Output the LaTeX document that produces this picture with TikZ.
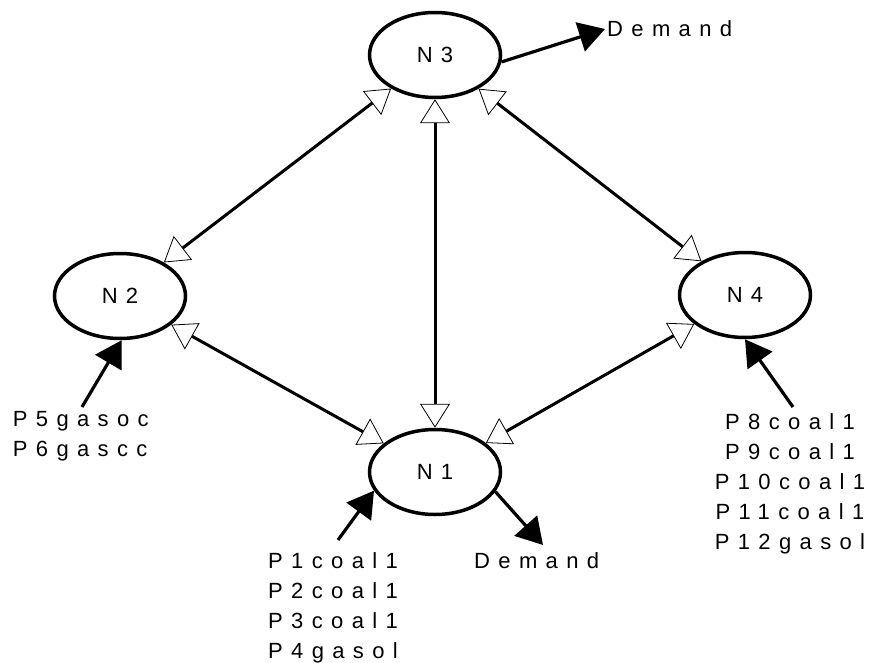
\documentclass[tikz,border=0pt]{standalone}
\usepackage{fontspec}
\setmainfont{Liberation Sans}
\newfontfamily\spacedfont[LetterSpace=38]{Liberation Sans}
\usetikzlibrary{arrows.meta,shapes.geometric}
\newcommand\lblfont{\spacedfont\fontsize{22}{30}\selectfont}
\tikzset{
  otip/.tip={Triangle[open,length=24pt,width=30pt,line width=0.8pt]},
  ftip/.tip={Triangle[length=26pt,width=30pt]},
  netnode/.style={ellipse, draw, line width=3.5pt, minimum width=131pt, minimum height=85pt, inner sep=0pt, font=\lblfont},
  lbl/.style={inner sep=0pt, font=\lblfont},
  link/.style={line width=3pt, otip-otip},
  feed/.style={line width=3.2pt, -ftip},
}
\begin{document}
\begin{tikzpicture}[x=1pt,y=-1pt]
\useasboundingbox (0,0) rectangle (869,663);
\node[netnode] (N3) at (435,55) {N3};
\node[netnode] (N2) at (120,296) {N2};
\node[netnode] (N4) at (745,295) {N4};
\node[netnode] (N1) at (435,472) {N1};

\node[lbl, anchor=base west] (dem3) at (607,37) {Demand};
\node[lbl, anchor=base west] (dem1) at (474,568) {Demand};
\node[lbl, anchor=north west, align=left] (g2) at (12.7,411) {P5gasoc\\P6gascc};
\node[lbl, anchor=north west, align=left] (g1) at (268,552) {P1coal1\\P2coal1\\P3coal1\\P4gasol};
\node[lbl, anchor=north, align=center] (g4) at (790,413) {P8coal1\\P9coal1\\P10coal1\\P11coal1\\P12gasol};

\coordinate (t3) at (605,29);
\coordinate (t1) at (543,545);
\coordinate (s1) at (338,540);
\coordinate (s2) at (82,407);
\coordinate (s4) at (793,407);

\draw[link] (N3) -- (N2);
\draw[link] (N3) -- (N1);
\draw[link] (N3) -- (N4);
\draw[link] (N2) -- (N1);
\draw[link] (N4) -- (N1);

\draw[feed] (N3.-6) -- (t3);
\draw[feed] (N1.-18) -- (t1);
\draw[feed] (s1) -- (N1.197);
\draw[feed] (s2) -- (N2.-88);
\draw[feed] (s4) -- (N4.-90);
\end{tikzpicture}
\end{document}
